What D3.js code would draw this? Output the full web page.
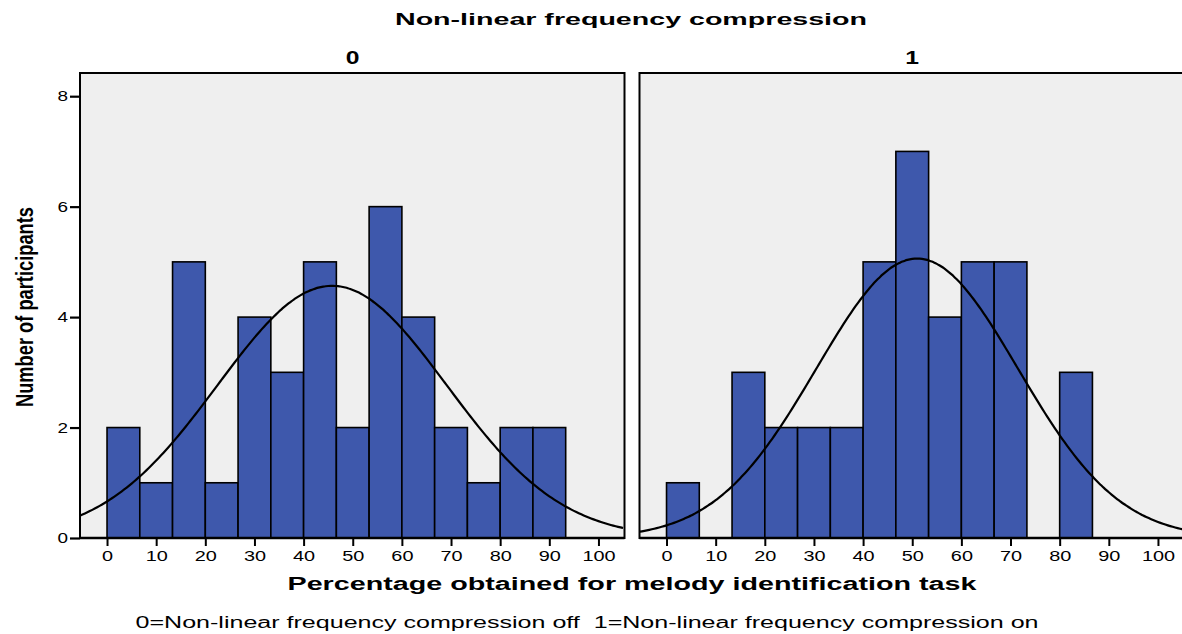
<!DOCTYPE html>
<html>
<head>
<meta charset="utf-8">
<script src="https://cdn.jsdelivr.net/npm/d3@7"></script>
<style>
  body { margin: 0; background: #fff; }
  svg text { font-family: "Liberation Sans", Arial, sans-serif; fill: #000; }
</style>
</head>
<body>
<svg id="chart" width="1182" height="634"></svg>
<script>
// histogram bins are 100/15 wide, starting at 0
const binWidth = 100 / 15;
const groups = ["0", "1"];
const countsOff = [2, 1, 5, 1, 4, 3, 5, 2, 6, 4, 2, 1, 2, 2];
const countsOn = [1, 0, 3, 2, 2, 2, 5, 7, 4, 5, 5, 0, 3];
// fitted normal curve: mean, sd, n
const curveOff = { mean: 45.8, sd: 23.3, n: 40 };
const curveOn = { mean: 51, sd: 20.5, n: 39 };
const xTicks = [0, 10, 20, 30, 40, 50, 60, 70, 80, 90, 100];
const yTicks = [0, 2, 4, 6, 8];

const svg = d3.select("#chart");

const yScale = d3.scaleLinear().domain([0, 8.42]).range([538, 73]);

const panels = [
  { label: groups[0], counts: countsOff, curve: curveOff, left: 80 },
  { label: groups[1], counts: countsOn, curve: curveOn, left: 639.5 }
];

// stretch text horizontally, the original picture is wider than normal
function stretch(sel, k) {
  sel.each(function () {
    const w = this.getComputedTextLength();
    d3.select(this).attr("textLength", w * k).attr("lengthAdjust", "spacingAndGlyphs");
  });
}

panels.forEach((p, idx) => {
  const xScale = d3.scaleLinear().domain([-5.5, 105.3]).range([p.left, p.left + 544.5]);
  const g = svg.append("g");

  g.append("rect")
    .attr("x", xScale.range()[0]).attr("y", yScale.range()[1])
    .attr("width", 544.5).attr("height", yScale.range()[0] - yScale.range()[1])
    .attr("fill", "#efefef");

  g.selectAll("rect.bar")
    .data(p.counts.map((c, i) => ({ c, x0: i * binWidth, x1: (i + 1) * binWidth })).filter(d => d.c > 0))
    .enter().append("rect")
    .attr("class", "bar")
    .attr("x", d => xScale(d.x0))
    .attr("y", d => yScale(d.c))
    .attr("width", d => xScale(d.x1) - xScale(d.x0))
    .attr("height", d => yScale(0) - yScale(d.c))
    .attr("fill", "#3e58ac")
    .attr("stroke", "#000")
    .attr("stroke-width", 1.6);

  // normal curve scaled to counts
  const c = p.curve;
  const peak = c.n * binWidth / (c.sd * Math.sqrt(2 * Math.PI));
  const line = d3.line()
    .x(d => xScale(d))
    .y(d => yScale(peak * Math.exp(-0.5 * Math.pow((d - c.mean) / c.sd, 2))))
    .curve(d3.curveBasis);
  g.append("path")
    .datum(d3.range(-5.5, 105.4, 0.5))
    .attr("d", line)
    .attr("fill", "none")
    .attr("stroke", "#000")
    .attr("stroke-width", 2.2);

  // frame
  g.append("rect")
    .attr("x", xScale.range()[0]).attr("y", yScale.range()[1])
    .attr("width", 544.5).attr("height", yScale.range()[0] - yScale.range()[1])
    .attr("fill", "none").attr("stroke", "#000").attr("stroke-width", 2);

  const xAxis = d3.axisBottom(xScale).tickValues(xTicks).tickSize(8).tickPadding(5);
  const ax = g.append("g").attr("transform", `translate(0,${yScale(0)})`).call(xAxis);
  ax.select(".domain").attr("stroke-width", 2.5).attr("d", `M${xScale.range()[0]},0H${xScale.range()[1]}`);
  ax.selectAll(".tick line").attr("stroke-width", 2);
  ax.selectAll(".tick text").attr("font-size", 14).call(stretch, 1.42);

  if (idx === 0) {
    const yAxis = d3.axisLeft(yScale).tickValues(yTicks).tickSize(10).tickPadding(2);
    const ay = g.append("g").attr("transform", `translate(${xScale.range()[0]},0)`).call(yAxis);
    ay.select(".domain").remove();
    ay.selectAll(".tick line").attr("stroke-width", 2.2);
    ay.selectAll(".tick text").attr("font-size", 14).call(stretch, 1.35);
  }

  g.append("text")
    .attr("x", xScale(50)).attr("y", 64)
    .attr("text-anchor", "middle")
    .attr("font-size", 19).attr("font-weight", "bold")
    .text(p.label)
    .call(stretch, 1.3);
});

svg.append("text")
  .attr("x", 631).attr("y", 25)
  .attr("text-anchor", "middle")
  .attr("font-size", 16).attr("font-weight", "bold")
  .attr("textLength", 472).attr("lengthAdjust", "spacingAndGlyphs")
  .text("Non-linear frequency compression");

svg.append("text")
  .attr("transform", "translate(33,307) rotate(-90)")
  .attr("text-anchor", "middle")
  .attr("font-size", 23).attr("font-weight", "bold")
  .attr("textLength", 200).attr("lengthAdjust", "spacingAndGlyphs")
  .text("Number of participants");

svg.append("text")
  .attr("x", 632).attr("y", 590)
  .attr("text-anchor", "middle")
  .attr("font-size", 18).attr("font-weight", "bold")
  .attr("textLength", 689).attr("lengthAdjust", "spacingAndGlyphs")
  .text("Percentage obtained for melody identification task");

svg.append("text")
  .attr("x", 587).attr("y", 628)
  .attr("text-anchor", "middle")
  .attr("font-size", 16)
  .attr("textLength", 903).attr("lengthAdjust", "spacingAndGlyphs")
  .text("0=Non-linear frequency compression off\u00a0\u00a01=Non-linear frequency compression on");
</script>
</body>
</html>
